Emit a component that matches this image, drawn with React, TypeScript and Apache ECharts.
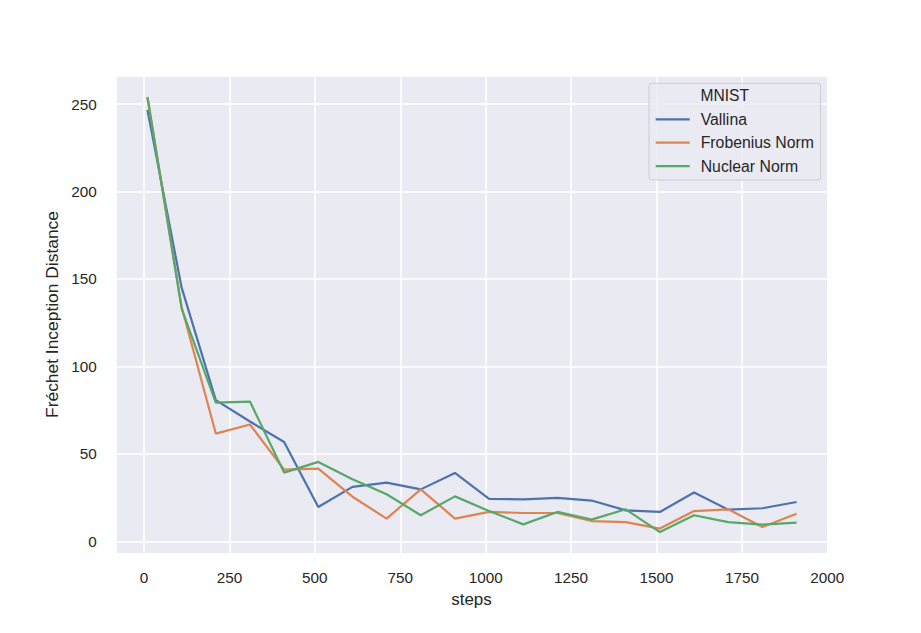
import React, { useEffect, useRef } from "react";
import * as echarts from "echarts";

const steps = [10, 110, 210, 310, 410, 510, 610, 710, 810, 910, 1010, 1110, 1210, 1310, 1410, 1510, 1610, 1710, 1810, 1910];
const vallina = [246.6, 145.0, 80.7, 68.5, 56.8, 19.6, 31.1, 33.6, 29.7, 39.1, 24.2, 24.0, 24.8, 23.3, 17.7, 16.8, 27.9, 18.1, 18.9, 22.5];
const frobenius = [254.0, 134.0, 61.6, 66.8, 41.0, 41.6, 25.5, 13.0, 29.7, 13.0, 16.8, 16.2, 16.2, 11.6, 11.0, 7.3, 17.3, 18.3, 8.2, 15.8];
const nuclear = [253.8, 133.0, 79.3, 79.9, 39.3, 45.4, 35.5, 26.9, 14.9, 25.7, 17.3, 9.7, 16.8, 12.4, 18.3, 5.3, 14.9, 11.0, 9.5, 10.7];

const seriesNames = ["Vallina", "Frobenius Norm", "Nuclear Norm"];
const seriesColors = ["#4c72b0", "#dd8452", "#55a868"];
const seriesValues = [vallina, frobenius, nuclear];
const legendTitle = "MNIST";
const xName = "steps";
const yName = "Fréchet Inception Distance";

const FONT = "'Liberation Sans', Arial, sans-serif";
const TEXT = "#262626";

export default function App() {
  const ref = useRef<HTMLDivElement>(null);
  useEffect(() => {
    if (!ref.current) return;
    const chart = echarts.init(ref.current, null, { renderer: "svg" });
    chart.setOption({
      animation: false,
      backgroundColor: "#ffffff",
      textStyle: { fontFamily: FONT, color: TEXT },
      grid: { left: 115.7, top: 75.7, right: 93.7, bottom: 79.7, show: true, backgroundColor: "#eaeaf2", borderWidth: 0 },
      xAxis: {
        type: "value",
        min: -83,
        max: 2000,
        minInterval: 250,
        maxInterval: 250,
        name: xName,
        nameLocation: "middle",
        nameGap: 38,
        nameTextStyle: { fontSize: 17, color: TEXT, fontFamily: FONT },
        axisLine: { show: false },
        axisTick: { show: false },
        axisLabel: {
          fontSize: 15.3,
          color: TEXT,
          fontFamily: FONT,
          margin: 17,
          showMinLabel: false,
          formatter: (v: number) => (Math.abs(v % 250) < 1e-6 ? String(v) : ""),
        },
        splitLine: { show: true, lineStyle: { color: "#ffffff", width: 1.6 } },
      },
      yAxis: {
        type: "value",
        min: -6.85,
        max: 266.2,
        minInterval: 50,
        maxInterval: 50,
        name: yName,
        nameLocation: "middle",
        nameGap: 47,
        nameTextStyle: { fontSize: 17.4, color: TEXT, fontFamily: FONT },
        axisLine: { show: false },
        axisTick: { show: false },
        axisLabel: {
          fontSize: 15.3,
          color: TEXT,
          fontFamily: FONT,
          margin: 19,
          showMinLabel: false,
          showMaxLabel: false,
          formatter: (v: number) => (Math.abs(v % 50) < 1e-6 ? String(v) : ""),
        },
        splitLine: { show: true, lineStyle: { color: "#ffffff", width: 1.6 } },
      },
      legend: {
        data: seriesNames,
        orient: "vertical",
        left: 655.7,
        top: 111.3,
        icon: "rect",
        itemWidth: 34,
        itemHeight: 2.2,
        itemGap: 7.4,
        padding: 0,
        textStyle: { fontSize: 15.8, color: TEXT, fontFamily: FONT, lineHeight: 16, padding: [0, 0, 0, 6] },
        z: 10,
      },
      graphic: [
        {
          type: "rect",
          shape: { x: 649, y: 83.3, width: 171.7, height: 96.7, r: 3 },
          style: { fill: "rgba(234,234,242,0.8)", stroke: "#cccccc", lineWidth: 1 },
          z: 5,
          silent: true,
        },
        {
          type: "text",
          x: 724.7,
          y: 95.7,
          style: { text: legendTitle, font: `15.6px ${FONT}`, fill: TEXT, textAlign: "center", textVerticalAlign: "middle" },
          z: 6,
        },
      ],
      series: seriesNames.map((name, i) => ({
        name,
        type: "line",
        data: steps.map((s, j) => [s, seriesValues[i][j]]),
        symbol: "none",
        showSymbol: false,
        lineStyle: { color: seriesColors[i], width: 2.2 },
        itemStyle: { color: seriesColors[i] },
      })),
    });
    return () => chart.dispose();
  }, []);
  return <div ref={ref} style={{ position: "fixed", left: 0, top: 0, width: 921, height: 633 }} />;
}
